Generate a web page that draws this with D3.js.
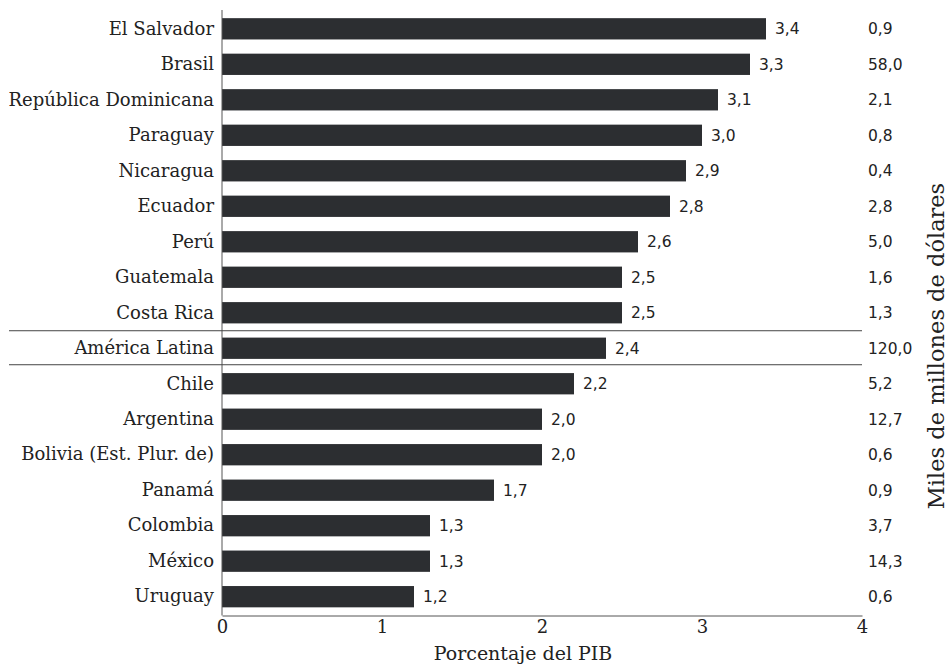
<!DOCTYPE html>
<html>
<head>
<meta charset="utf-8">
<script src="https://cdn.jsdelivr.net/npm/d3@7"></script>
<style>
  html, body { margin: 0; padding: 0; background: #fff; }
  svg { display: block; }
</style>
</head>
<body>
<svg id="chart" width="950" height="664"></svg>
<script>
// Gasto tributario por país: porcentaje del PIB y miles de millones de dólares
const countries = [
  "El Salvador", "Brasil", "República Dominicana", "Paraguay", "Nicaragua",
  "Ecuador", "Perú", "Guatemala", "Costa Rica", "América Latina", "Chile",
  "Argentina", "Bolivia (Est. Plur. de)", "Panamá", "Colombia", "México", "Uruguay"
];
const pctGDP = [3.4, 3.3, 3.1, 3.0, 2.9, 2.8, 2.6, 2.5, 2.5, 2.4, 2.2, 2.0, 2.0, 1.7, 1.3, 1.3, 1.2];
const billionsUSD = [0.9, 58.0, 2.1, 0.8, 0.4, 2.8, 5.0, 1.6, 1.3, 120.0, 5.2, 12.7, 0.6, 0.9, 3.7, 14.3, 0.6];
const xTicks = [0, 1, 2, 3, 4];
const xTitle = "Porcentaje del PIB";
const rightTitle = "Miles de millones de dólares";
const regionLabel = "América Latina";

(function draw() {
  const fmt = v => d3.format(".1f")(v).replace(".", ",");

  const svg = d3.select("#chart");
  const serif = "'DejaVu Serif', serif";
  const sans = "'DejaVu Sans', sans-serif";
  const ink = "#222";
  const barColor = "#2c2e31";

  const m = { left: 222, right: 862, top: 10, bottom: 615.5 };

  const x = d3.scaleLinear().domain([0, 4]).range([m.left, m.right]);
  const y = d3.scaleBand().domain(countries).range([m.top, m.bottom])
    .paddingInner(0.4).paddingOuter(0.23);

  // Bars
  svg.append("g").selectAll("rect")
    .data(countries)
    .join("rect")
    .attr("x", x(0))
    .attr("y", d => y(d))
    .attr("width", (d, i) => x(pctGDP[i]) - x(0))
    .attr("height", y.bandwidth())
    .attr("fill", barColor);

  // Value labels at bar ends
  svg.append("g").selectAll("text")
    .data(countries)
    .join("text")
    .attr("x", (d, i) => x(pctGDP[i]) + 9)
    .attr("y", d => y(d) + y.bandwidth() / 2)
    .attr("dy", "0.36em")
    .attr("font-family", sans)
    .attr("font-size", 15.5)
    .attr("fill", ink)
    .text((d, i) => fmt(pctGDP[i]));

  // Right column: billions of dollars
  svg.append("g").selectAll("text")
    .data(countries)
    .join("text")
    .attr("x", 868)
    .attr("y", d => y(d) + y.bandwidth() / 2)
    .attr("dy", "0.36em")
    .attr("font-family", sans)
    .attr("font-size", 15.5)
    .attr("fill", ink)
    .text((d, i) => fmt(billionsUSD[i]));

  // Category axis
  const yAxis = svg.append("g")
    .attr("transform", `translate(${m.left},0)`)
    .call(d3.axisLeft(y).tickSize(0).tickPadding(8));
  yAxis.select(".domain").attr("stroke", "#555").attr("d", `M0,${m.top}V${m.bottom}`);
  yAxis.selectAll("text").attr("font-family", serif).attr("font-size", 18).attr("fill", ink);

  // Value axis
  const xAxis = svg.append("g")
    .attr("transform", `translate(0,${m.bottom})`)
    .call(d3.axisBottom(x).tickValues(xTicks).tickFormat(d3.format("d")).tickSize(0).tickPadding(5));
  xAxis.select(".domain").attr("stroke", "#555");
  xAxis.selectAll("text").attr("font-family", serif).attr("font-size", 18).attr("fill", ink);

  // Separator lines around the regional aggregate row
  const yr = y(regionLabel) + y.bandwidth() / 2;
  [yr - 17.5, yr + 16.5].forEach(yy => {
    svg.append("line")
      .attr("x1", 9).attr("x2", 862)
      .attr("y1", yy).attr("y2", yy)
      .attr("stroke", "#444").attr("stroke-width", 1);
  });

  // Axis titles
  svg.append("text")
    .attr("x", 523).attr("y", 660)
    .attr("text-anchor", "middle")
    .attr("font-family", serif).attr("font-size", 19).attr("fill", ink)
    .text(xTitle);

  svg.append("text")
    .attr("transform", "translate(936,346) rotate(-90)")
    .attr("text-anchor", "middle")
    .attr("dy", "0.35em")
    .attr("font-family", serif).attr("font-size", 22.5).attr("fill", ink)
    .text(rightTitle);
})();
</script>
</body>
</html>
